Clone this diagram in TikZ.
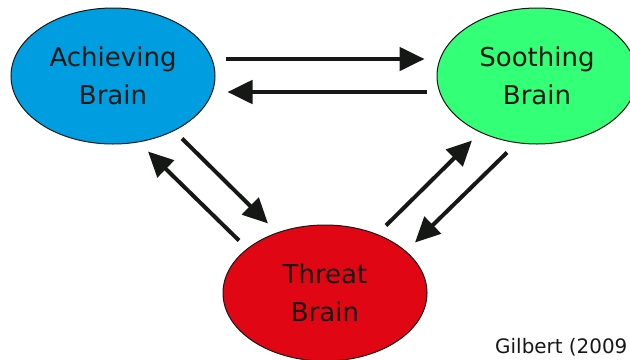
\documentclass[tikz,border=0pt]{standalone}
\usepackage{fontspec}
\setmainfont{DejaVu Sans}
\usetikzlibrary{shapes.geometric,arrows.meta}
\definecolor{achblue}{RGB}{0,158,224}
\definecolor{soogreen}{RGB}{51,255,119}
\definecolor{thrred}{RGB}{224,6,20}
\definecolor{ink}{RGB}{22,24,22}

\begin{document}
\begin{tikzpicture}[x=0.3mm,y=-0.3mm,
    brain/.style={ellipse,draw=ink,line width=0.3mm,inner sep=0pt,
      minimum width=61.2mm,minimum height=40.8mm,align=center,text=ink,
      font=\fontsize{22.2}{32.4}\selectfont},
    arr/.style={draw=ink,line width=1.2mm,
      -{Triangle[length=7.5mm,width=7mm]}}]
      \useasboundingbox (0,0) rectangle (630,359);
      \node[brain,fill=achblue] (ach) at (113,76) {Achieving\\Brain};
      \node[brain,fill=soogreen,minimum width=60mm] (soo) at (537,76) {Soothing\\Brain};
      \node[brain,fill=thrred] (thr) at (325,293) {Threat\\Brain};
      \node[anchor=base west,inner sep=0pt,text=ink,font=\fontsize{17}{20}\selectfont] (cite) at (495,353) {Gilbert (2009};
      \draw[arr] ([shift={(10,-17)}]ach.east) -- ([shift={(-12,-17)}]soo.west);
      \draw[arr] ([shift={(-10,16)}]soo.west) -- ([shift={(12,16)}]ach.east);
      \draw[arr] ([shift={(69,-6)}]ach.south) -- ([shift={(-57,-1)}]thr.north);
      \draw[arr] ([shift={(-86,16)}]thr.north) -- ([shift={(35,7)}]ach.south);
      \draw[arr] ([shift={(61,1)}]thr.north) -- ([shift={(-65,-4)}]soo.south);
      \draw[arr] ([shift={(-30,8)}]soo.south) -- ([shift={(90,18)}]thr.north);
    \end{tikzpicture}
\end{document}
